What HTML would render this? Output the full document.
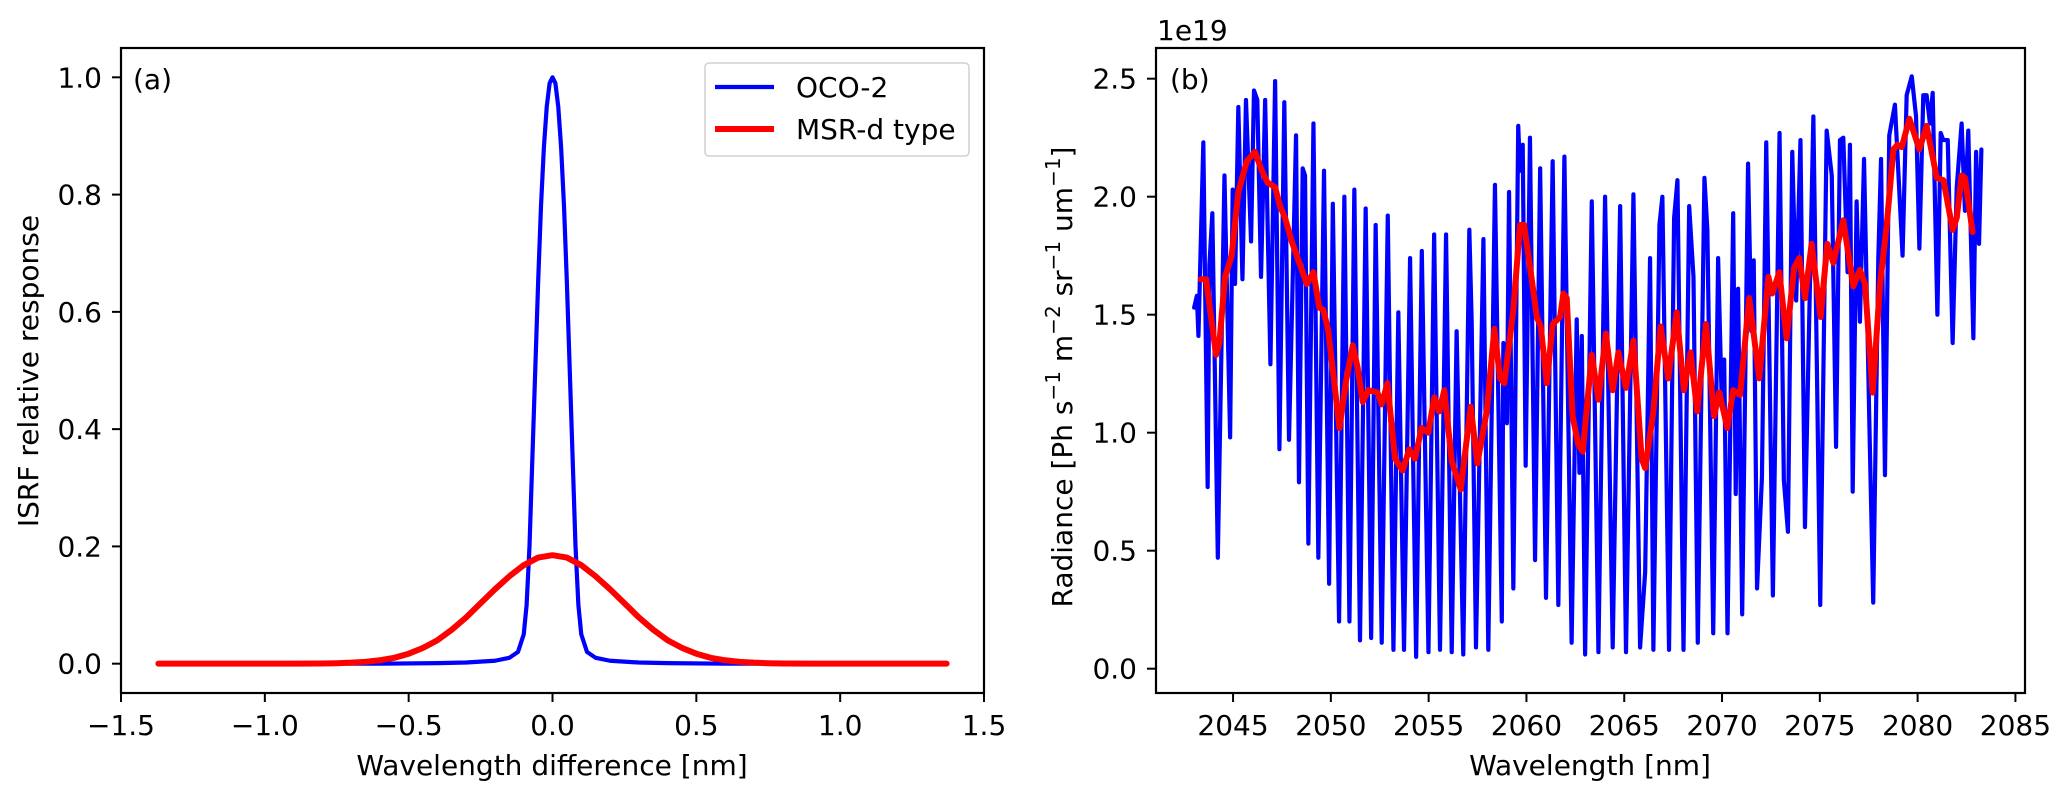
<!DOCTYPE html>
<html><head><meta charset="utf-8">
<style>
html,body{margin:0;padding:0;background:#fff;}
svg text{font-family:"DejaVu Sans","Liberation Sans",sans-serif;fill:#000;}
</style></head>
<body>
<svg id="fig" width="2067" height="781" viewBox="0 0 2067 781" xmlns="http://www.w3.org/2000/svg">
<rect width="2067" height="781" fill="#fff"/>
<g id="panelA"></g>
<g id="panelB"></g>
</svg>
<script>
// ---- Panel (a) data ----
const isrfTicksX = [-1.5, -1.0, -0.5, 0.0, 0.5, 1.0, 1.5];
const isrfTicksY = [0.0, 0.2, 0.4, 0.6, 0.8, 1.0];
const ocoX = [-1.37,-0.6,-0.4,-0.3,-0.2,-0.15,-0.12,-0.1,-0.09,-0.08,-0.07,-0.06,-0.05,-0.04,-0.03,-0.02,-0.01,0,0.01,0.02,0.03,0.04,0.05,0.06,0.07,0.08,0.09,0.1,0.12,0.15,0.2,0.3,0.4,0.6,1.37];
const ocoY = [0,0,0.001,0.002,0.005,0.01,0.02,0.05,0.1,0.2,0.35,0.5,0.65,0.78,0.88,0.95,0.99,1,0.99,0.95,0.88,0.78,0.65,0.5,0.35,0.2,0.1,0.05,0.02,0.01,0.005,0.002,0.001,0,0];
const msrX = [-1.37,-1.2,-1.0,-0.9,-0.8,-0.75,-0.7,-0.65,-0.6,-0.55,-0.5,-0.45,-0.4,-0.35,-0.3,-0.25,-0.2,-0.15,-0.1,-0.05,0,0.05,0.1,0.15,0.2,0.25,0.3,0.35,0.4,0.45,0.5,0.55,0.6,0.65,0.7,0.75,0.8,0.9,1.0,1.2,1.37];
const msrY = [0,0,0,0.0001,0.0004,0.0008,0.0017,0.0032,0.0058,0.010,0.017,0.027,0.040,0.058,0.079,0.103,0.127,0.149,0.168,0.181,0.185,0.181,0.168,0.149,0.127,0.103,0.079,0.058,0.040,0.027,0.017,0.010,0.0058,0.0032,0.0017,0.0008,0.0004,0.0001,0,0,0];

// ---- Panel (b) data ----
const radTicksX = [2045, 2050, 2055, 2060, 2065, 2070, 2075, 2080, 2085];
const radTicksY = [0.0, 0.5, 1.0, 1.5, 2.0, 2.5];
const blueX = [2043.01,2043.15,2043.23,2043.48,2043.70,2043.79,2043.94,2044.22,2044.56,2044.85,2044.98,2045.10,2045.27,2045.48,2045.66,2045.92,2046.07,2046.24,2046.43,2046.64,2046.91,2047.15,2047.37,2047.62,2047.86,2048.22,2048.37,2048.56,2048.68,2048.85,2049.11,2049.36,2049.65,2049.91,2050.10,2050.42,2050.69,2050.95,2051.20,2051.49,2051.78,2052.06,2052.29,2052.60,2052.91,2053.20,2053.45,2053.74,2054.05,2054.36,2054.65,2054.99,2055.28,2055.58,2055.89,2056.18,2056.43,2056.77,2057.08,2057.20,2057.42,2057.80,2058.05,2058.39,2058.74,2058.82,2059.00,2059.11,2059.33,2059.58,2059.67,2059.81,2059.96,2060.18,2060.44,2060.70,2061.00,2061.34,2061.63,2061.94,2062.31,2062.57,2062.71,2062.83,2063.00,2063.34,2063.68,2064.02,2064.41,2064.79,2065.09,2065.47,2065.81,2066.07,2066.32,2066.49,2066.80,2066.95,2067.29,2067.55,2067.72,2068.03,2068.32,2068.54,2068.76,2069.10,2069.25,2069.55,2069.80,2069.97,2070.11,2070.28,2070.57,2070.70,2070.82,2071.03,2071.33,2071.50,2071.62,2071.79,2072.04,2072.26,2072.60,2072.94,2073.16,2073.37,2073.59,2073.79,2074.01,2074.24,2074.67,2075.02,2075.35,2075.61,2075.83,2076.03,2076.20,2076.42,2076.54,2076.68,2076.88,2077.05,2077.26,2077.53,2077.73,2077.99,2078.13,2078.33,2078.55,2078.84,2079.23,2079.44,2079.70,2079.92,2080.09,2080.29,2080.46,2080.63,2080.77,2081.01,2081.18,2081.31,2081.54,2081.79,2082.00,2082.25,2082.42,2082.59,2082.85,2082.99,2083.14,2083.26];
const blueY = [1.53,1.58,1.41,2.23,0.77,1.71,1.93,0.47,2.09,0.98,2.03,1.63,2.38,1.65,2.41,1.81,2.45,2.41,1.66,2.41,1.29,2.49,0.93,2.40,0.97,2.26,0.79,2.12,2.09,0.53,2.31,0.47,2.11,0.36,1.97,0.20,2.00,0.20,2.03,0.12,1.95,0.13,1.88,0.11,1.92,0.08,1.51,0.08,1.74,0.05,1.77,0.07,1.84,0.08,1.84,0.07,1.43,0.06,1.86,1.47,0.09,1.82,0.08,2.05,0.20,1.38,1.04,2.02,0.34,2.30,2.11,2.22,0.86,2.25,0.46,2.12,0.30,2.15,0.27,2.17,0.11,1.48,0.83,1.41,0.06,1.98,0.07,2.00,0.09,1.96,0.07,2.01,0.09,0.41,1.74,0.08,1.88,2.00,0.08,1.91,2.07,0.08,1.96,1.66,0.11,2.08,1.86,0.15,1.74,1.18,1.31,0.15,1.93,0.74,1.61,0.23,2.14,1.43,1.73,0.34,0.81,2.23,0.31,2.27,0.80,0.58,2.19,1.56,2.24,0.60,2.34,0.27,2.28,2.09,0.94,2.24,2.25,1.68,2.22,0.75,1.98,1.47,2.16,1.05,0.28,1.74,2.16,0.82,2.26,2.39,1.75,2.43,2.51,2.34,1.78,2.43,2.43,2.31,2.44,1.50,2.27,2.24,2.24,1.38,2.04,2.31,1.94,2.28,1.40,2.19,1.80,2.20];
const redX = [2043.35,2043.62,2044.13,2044.30,2044.59,2044.93,2045.27,2045.70,2046.12,2046.47,2046.76,2047.15,2047.40,2047.66,2048.00,2048.77,2049.11,2049.41,2049.62,2049.87,2050.44,2050.78,2051.12,2051.36,2051.63,2051.92,2052.38,2052.60,2052.89,2053.28,2053.67,2054.01,2054.30,2054.64,2054.98,2055.29,2055.54,2055.80,2056.18,2056.64,2057.15,2057.49,2057.97,2058.36,2058.65,2058.87,2059.33,2059.67,2059.88,2060.27,2060.53,2060.73,2061.04,2061.34,2061.72,2061.89,2062.06,2062.36,2062.65,2062.88,2063.34,2063.68,2064.06,2064.41,2064.70,2065.09,2065.47,2065.89,2066.07,2066.49,2066.86,2067.25,2067.68,2068.05,2068.39,2068.73,2069.18,2069.59,2069.86,2070.27,2070.57,2070.92,2071.39,2071.90,2072.37,2072.57,2072.93,2073.30,2073.69,2073.95,2074.24,2074.58,2075.04,2075.38,2075.69,2076.20,2076.71,2077.05,2077.31,2077.70,2078.08,2078.42,2078.76,2078.97,2079.19,2079.58,2080.09,2080.46,2080.98,2081.32,2081.79,2082.00,2082.25,2082.42,2082.81];
const redY = [1.65,1.65,1.33,1.38,1.66,1.75,2.02,2.15,2.19,2.11,2.06,2.04,1.96,1.91,1.81,1.63,1.68,1.53,1.52,1.43,1.02,1.22,1.37,1.28,1.13,1.18,1.17,1.12,1.21,0.89,0.84,0.93,0.89,1.02,1.00,1.15,1.09,1.18,0.88,0.76,1.11,0.87,1.09,1.44,1.23,1.21,1.52,1.88,1.88,1.65,1.49,1.45,1.21,1.46,1.49,1.59,1.57,1.07,0.95,0.92,1.33,1.14,1.42,1.18,1.34,1.19,1.39,0.89,0.85,1.09,1.45,1.23,1.51,1.18,1.34,1.09,1.46,1.07,1.17,1.02,1.18,1.16,1.57,1.23,1.66,1.59,1.68,1.40,1.70,1.74,1.57,1.80,1.49,1.80,1.72,1.90,1.62,1.69,1.63,1.17,1.63,1.88,2.20,2.22,2.21,2.33,2.20,2.30,2.08,2.07,1.86,1.91,2.09,2.08,1.85];

const NS = "http://www.w3.org/2000/svg";
const FS = 28;
function mk(parent, tag, attrs, text) {
  const el = document.createElementNS(NS, tag);
  for (const k in attrs) el.setAttribute(k, attrs[k]);
  if (text !== undefined) el.textContent = text;
  parent.appendChild(el);
  return el;
}
function fmtMinus(s){ return s.replace('-', '\u2212'); }

function drawAxes(g, box, xs, ys, xTicks, yTicks, xDec, yDec, name) {
  xTicks.forEach(v => {
    const X = xs(v);
    const t = mk(g, 'line', {x1:X, x2:X, y1:box.b, y2:box.b+9, stroke:'#000', 'stroke-width':2});
    
    
    const lb = mk(g, 'text', {x:X, y:735, 'font-size':FS, 'text-anchor':'middle'}, fmtMinus(v.toFixed(xDec)));
    
    
  });
  yTicks.forEach(v => {
    const Y = ys(v);
    const t = mk(g, 'line', {x1:box.l-9, x2:box.l, y1:Y, y2:Y, stroke:'#000', 'stroke-width':2});
    
    
    const lb = mk(g, 'text', {x:box.l-19, y:Y+10, 'font-size':FS, 'text-anchor':'end'}, fmtMinus(v.toFixed(yDec)));
    
    
  });
}
function polyline(g, X, Y, xs, ys, color, w, nm) {
  const pts = X.map((x,i) => xs(x).toFixed(2) + ',' + ys(Y[i]).toFixed(2)).join(' ');
  const p = mk(g, 'polyline', {points:pts, fill:'none', stroke:color, 'stroke-width':w, 'stroke-linejoin':'round', 'stroke-linecap':'round'});
  
  
  return p;
}
function frame(g, box, nm) {
  const r = mk(g, 'rect', {x:box.l, y:box.t, width:box.r-box.l, height:box.b-box.t, fill:'none', stroke:'#000', 'stroke-width':2.2});
  
  
}

// ---- Panel (a) ----
const gA = document.getElementById('panelA');
const boxA = {l:121, r:984, t:48, b:693};
const axA = {x0:-1.5, x1:1.5, y0:-0.05, y1:1.05};
const xsA = v => boxA.l + (v - axA.x0) / (axA.x1 - axA.x0) * (boxA.r - boxA.l);
const ysA = v => boxA.b - (v - axA.y0) / (axA.y1 - axA.y0) * (boxA.b - boxA.t);
drawAxes(gA, boxA, xsA, ysA, isrfTicksX, isrfTicksY, 1, 1, 'isrf');
polyline(gA, ocoX, ocoY, xsA, ysA, '#0000ff', 4.2, 'oco2-isrf-line');
polyline(gA, msrX, msrY, xsA, ysA, '#ff0000', 6, 'msrd-isrf-line');
frame(gA, boxA, 'isrf-plot-frame');
let t;
t = mk(gA, 'text', {x:133, y:89, 'font-size':FS}, '(a)');
 
t = mk(gA, 'text', {x:552, y:775, 'font-size':FS, 'text-anchor':'middle'}, 'Wavelength difference [nm]');
 
t = mk(gA, 'text', {x:0, y:0, 'font-size':FS, 'text-anchor':'middle', transform:'translate(38,371) rotate(-90)'}, 'ISRF relative response');
 
const leg = mk(gA, 'g', {});
 
t = mk(leg, 'rect', {x:705, y:63, width:264, height:93, rx:4, fill:'#fff', 'fill-opacity':0.8, stroke:'#d0d0d0', 'stroke-width':1.5});
 
t = mk(leg, 'line', {x1:715, x2:774, y1:87, y2:87, stroke:'#0000ff', 'stroke-width':4.2});
 
t = mk(leg, 'text', {x:796, y:97, 'font-size':FS}, 'OCO-2');
 
t = mk(leg, 'line', {x1:715, x2:774, y1:129, y2:129, stroke:'#ff0000', 'stroke-width':6});
 
t = mk(leg, 'text', {x:796, y:139, 'font-size':FS}, 'MSR-d type');
 

// ---- Panel (b) ----
const gB = document.getElementById('panelB');
const boxB = {l:1156, r:2025, t:48, b:693};
const axB = {x0:2041.06, x1:2085.49, y0:-0.103, y1:2.630};
const xsB = v => boxB.l + (v - axB.x0) / (axB.x1 - axB.x0) * (boxB.r - boxB.l);
const ysB = v => boxB.b - (v - axB.y0) / (axB.y1 - axB.y0) * (boxB.b - boxB.t);
drawAxes(gB, boxB, xsB, ysB, radTicksX, radTicksY, 0, 1, 'radiance');
polyline(gB, blueX, blueY, xsB, ysB, '#0000ff', 4.2, 'oco2-radiance-line');
polyline(gB, redX, redY, xsB, ysB, '#ff0000', 6, 'msrd-radiance-line');
frame(gB, boxB, 'radiance-plot-frame');
t = mk(gB, 'text', {x:1170, y:89, 'font-size':FS}, '(b)');
 
t = mk(gB, 'text', {x:1157, y:40, 'font-size':FS}, '1e19');
 
t = mk(gB, 'text', {x:1590, y:775, 'font-size':FS, 'text-anchor':'middle'}, 'Wavelength [nm]');
 
const yl = mk(gB, 'text', {x:0, y:0, 'font-size':FS, 'text-anchor':'middle', transform:'translate(1072,377) rotate(-90)'});
 
yl.innerHTML = 'Radiance [Ph s<tspan dy="-12" font-size="20">\u22121</tspan><tspan dy="12"> m</tspan><tspan dy="-12" font-size="20">\u22122</tspan><tspan dy="12"> sr</tspan><tspan dy="-12" font-size="20">\u22121</tspan><tspan dy="12"> um</tspan><tspan dy="-12" font-size="20">\u22121</tspan><tspan dy="12">]</tspan>';
</script>
</body></html>
